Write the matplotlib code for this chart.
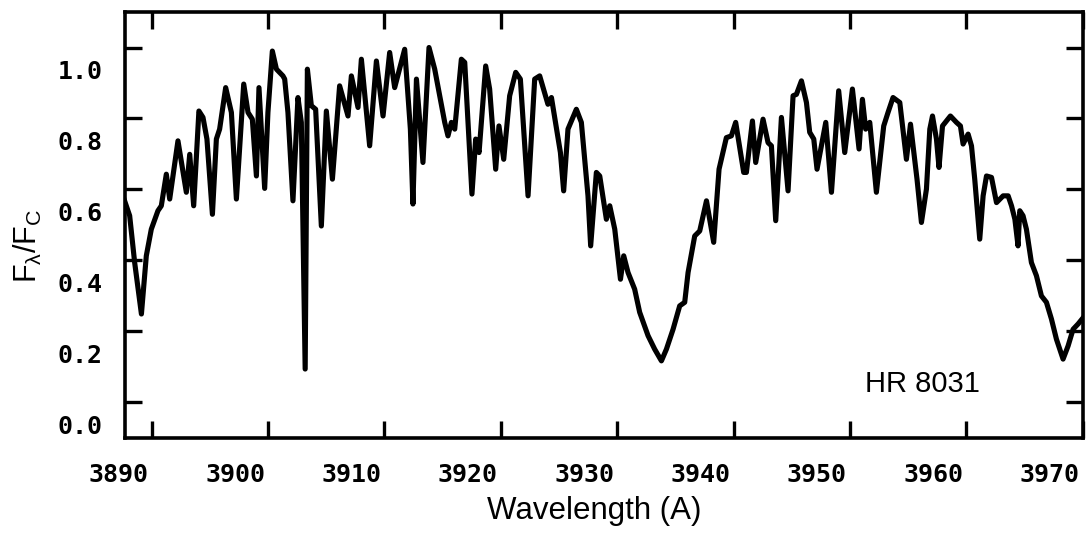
import matplotlib
matplotlib.use("Agg")
import matplotlib.pyplot as plt
from matplotlib.transforms import ScaledTranslation

# normalised flux of HR 8031 around the Ca II H & K lines
wavelength = [
    3887.53, 3888.11, 3888.54, 3889.12, 3889.54, 3889.97, 3890.54, 3890.83, 3891.26, 3891.55,
    3892.26, 3892.98, 3893.27, 3893.61, 3894.06, 3894.41, 3894.75, 3895.22, 3895.56, 3895.84,
    3896.36, 3896.85, 3897.28, 3897.91, 3898.28, 3898.65, 3899.00, 3899.22, 3899.71, 3899.99,
    3900.37, 3900.72, 3901.28, 3901.43, 3901.71, 3902.14, 3902.57, 3902.86, 3903.19, 3903.38,
    3903.72, 3904.09, 3904.58, 3905.01, 3905.53, 3906.15, 3906.87, 3907.16, 3907.73, 3908.02,
    3908.73, 3909.31, 3909.88, 3910.45, 3910.88, 3911.74, 3912.23, 3912.45, 3912.75, 3913.31,
    3913.83, 3914.32, 3915.18, 3915.46, 3915.75, 3916.04, 3916.61, 3916.90, 3917.52, 3917.84,
    3918.13, 3918.70, 3919.04, 3919.56, 3919.84, 3920.25, 3920.76, 3921.28, 3921.68, 3922.34,
    3922.91, 3923.34, 3924.05, 3924.35, 3925.12, 3925.40, 3925.77, 3926.49, 3926.92, 3927.49,
    3927.72, 3928.21, 3928.50, 3929.07, 3929.36, 3929.79, 3930.28, 3930.56, 3930.93, 3931.50,
    3931.93, 3932.65, 3933.22, 3933.80, 3934.23, 3934.80, 3935.37, 3935.80, 3936.09, 3936.66,
    3937.09, 3937.67, 3938.29, 3938.75, 3939.38, 3939.81, 3940.18, 3940.87, 3941.10, 3941.62,
    3941.90, 3942.53, 3942.96, 3943.25, 3943.62, 3944.11, 3944.68, 3945.11, 3945.40, 3945.83,
    3946.26, 3946.54, 3946.89, 3947.17, 3947.92, 3948.41, 3949.03, 3949.55, 3950.21, 3950.78,
    3951.07, 3951.35, 3951.70, 3952.27, 3952.90, 3953.27, 3953.70, 3954.28, 3954.85, 3955.20,
    3955.76, 3956.14, 3956.57, 3956.86, 3957.09, 3957.43, 3957.65, 3957.95, 3958.63, 3959.15,
    3959.49, 3959.72, 3960.15, 3960.44, 3960.72, 3961.15, 3961.44, 3961.73, 3962.16, 3962.59,
    3963.16, 3963.59, 3963.88, 3964.17, 3964.44, 3964.59, 3964.87, 3965.16, 3965.59, 3966.02,
    3966.45, 3966.88, 3967.31, 3967.74, 3968.31, 3968.74, 3969.17, 3969.60, 3970.17,
]
flux = [
    0.582, 0.526, 0.394, 0.249, 0.413, 0.488, 0.540, 0.554, 0.643, 0.573,
    0.737, 0.592, 0.699, 0.554, 0.821, 0.803, 0.742, 0.530, 0.742, 0.770,
    0.887, 0.817, 0.573, 0.897, 0.817, 0.798, 0.638, 0.887, 0.603, 0.817,
    0.990, 0.939, 0.920, 0.911, 0.817, 0.568, 0.859, 0.789, 0.094, 0.939,
    0.836, 0.826, 0.497, 0.821, 0.629, 0.892, 0.807, 0.920, 0.831, 0.967,
    0.723, 0.962, 0.807, 0.986, 0.887, 0.995, 0.770, 0.559, 0.911, 0.676,
    1.000, 0.939, 0.789, 0.751, 0.789, 0.770, 0.967, 0.958, 0.587, 0.742,
    0.704, 0.948, 0.883, 0.657, 0.779, 0.685, 0.864, 0.930, 0.911, 0.582,
    0.911, 0.920, 0.840, 0.859, 0.704, 0.596, 0.770, 0.826, 0.789, 0.582,
    0.441, 0.648, 0.638, 0.516, 0.554, 0.488, 0.347, 0.413, 0.366, 0.319,
    0.254, 0.188, 0.150, 0.117, 0.150, 0.206, 0.272, 0.282, 0.366, 0.469,
    0.483, 0.568, 0.451, 0.657, 0.746, 0.751, 0.789, 0.648, 0.648, 0.793,
    0.676, 0.798, 0.732, 0.723, 0.512, 0.803, 0.596, 0.864, 0.868, 0.906,
    0.845, 0.761, 0.742, 0.657, 0.789, 0.592, 0.878, 0.704, 0.883, 0.714,
    0.854, 0.770, 0.789, 0.592, 0.779, 0.817, 0.859, 0.845, 0.685, 0.784,
    0.629, 0.507, 0.601, 0.770, 0.807, 0.742, 0.662, 0.779, 0.807, 0.789,
    0.779, 0.728, 0.756, 0.723, 0.629, 0.460, 0.582, 0.638, 0.634, 0.563,
    0.582, 0.582, 0.554, 0.516, 0.441, 0.540, 0.526, 0.488, 0.394, 0.357,
    0.300, 0.282, 0.235, 0.178, 0.122, 0.159, 0.206, 0.221, 0.244,
]

x_ticks = [3890, 3900, 3910, 3920, 3930, 3940, 3950, 3960, 3970]
y_ticks = [0.0, 0.2, 0.4, 0.6, 0.8, 1.0]
star_name = "HR 8031"

fig = plt.figure(figsize=(10.86, 5.34), dpi=100)
ax = fig.add_axes([0.115, 0.18, 0.882, 0.7975])

ax.plot(wavelength, flux, color="black", lw=3.7, solid_joinstyle="round",
        solid_capstyle="round")
ax.set_xlim(3887.7, 3970.0)
ax.set_ylim(-0.1, 1.1)

for side in ax.spines.values():
    side.set_linewidth(2.6)

ax.set_xticks(x_ticks)
ax.set_yticks(y_ticks)
ax.set_xticklabels([str(v) for v in x_ticks])
ax.set_yticklabels(["%.1f" % v for v in y_ticks])
ax.tick_params(direction="in", length=12, width=2.4, top=True, right=True)
ax.tick_params(axis="x", pad=18)
ax.tick_params(axis="y", pad=16)

tick_font = {"family": "DejaVu Sans Mono", "weight": "bold", "size": 18}
for lab in ax.get_xticklabels() + ax.get_yticklabels():
    lab.set_fontproperties(tick_font)

# the printed labels sit a little left of / below their tick marks
dx = ScaledTranslation(-0.33, 0, fig.dpi_scale_trans)
dy = ScaledTranslation(0, -0.22, fig.dpi_scale_trans)
for lab in ax.get_xticklabels():
    lab.set_transform(lab.get_transform() + dx)
for lab in ax.get_yticklabels():
    lab.set_transform(lab.get_transform() + dy)

fig.text(0.5475, 0.043, "Wavelength (A)", family="Liberation Sans", size=22.5,
         ha="center", va="center")
fig.text(0.026, 0.54, r"$\mathregular{F_\lambda/F_C}$", family="Liberation Sans",
         size=22, rotation=90, ha="center", va="center")
ax.text(0.8325, 0.127, star_name, transform=ax.transAxes, family="Liberation Sans",
        size=21, ha="center", va="center")

fig.savefig("out.png", dpi=100, facecolor="white")
